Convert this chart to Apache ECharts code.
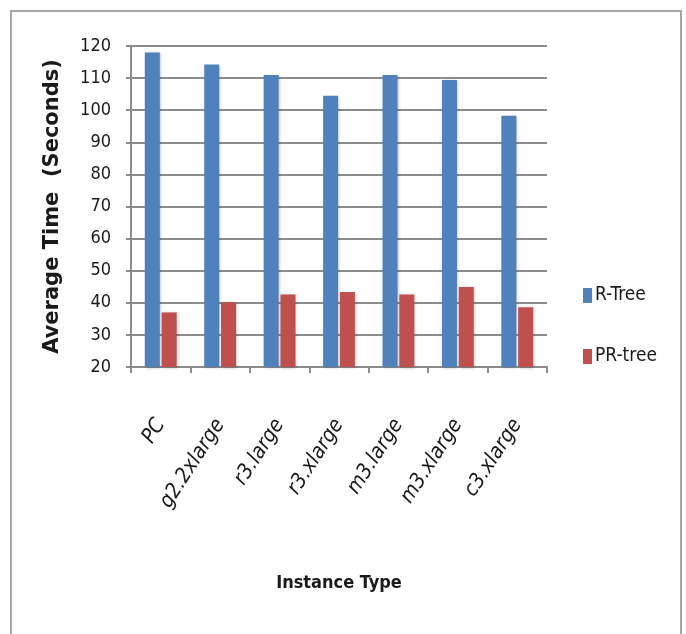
<!DOCTYPE html>
<html>
<head>
<meta charset="utf-8">
<style>
  html, body { margin: 0; padding: 0; background: #ffffff; }
  #chart { width: 686px; height: 634px; }
</style>
<script src="https://cdn.jsdelivr.net/npm/echarts@6/dist/echarts.min.js"></script>
</head>
<body>
<div id="chart"></div>
<script>
// Instance types benchmarked
const categories = ['PC', 'g2.2xlarge', 'r3.large', 'r3.xlarge', 'm3.large', 'm3.xlarge', 'c3.xlarge'];
// Average query time in seconds
const rTree = [118, 114.2, 111, 104.5, 111, 109.4, 98.3];
const prTree = [37, 40.2, 42.6, 43.4, 42.6, 44.9, 38.6];
const seriesNames = ['R-Tree', 'PR-tree'];

const narrow = '"Liberation Sans Narrow", "DejaVu Sans Condensed", sans-serif';
const gridGray = '#8c8c8c';

const chart = echarts.init(document.getElementById('chart'), null, { renderer: 'canvas' });

chart.setOption({
  animation: false,
  backgroundColor: '#ffffff',
  graphic: [{
    type: 'rect',
    shape: { x: 11, y: 11, width: 670, height: 640 },
    style: { fill: 'none', stroke: '#a6a6a6', lineWidth: 2 },
    z: -1
  }],
  grid: { left: 131, right: 139, top: 46, bottom: 267 },
  legend: {
    orient: 'vertical',
    left: 578,
    top: 281,
    itemGap: 42,
    itemWidth: 9,
    itemHeight: 15,
    icon: 'rect',
    textStyle: { fontFamily: narrow, fontSize: 19, color: '#1a1a1a', padding: [0, 0, 0, -2] },
    data: seriesNames
  },
  xAxis: {
    type: 'category',
    data: categories,
    name: 'Instance Type',
    nameLocation: 'middle',
    nameGap: 207,
    nameTextStyle: { fontFamily: narrow, fontSize: 18, fontWeight: 'bold', color: '#1a1a1a' },
    axisLine: { lineStyle: { color: gridGray, width: 2 } },
    axisTick: { show: true, alignWithLabel: false, length: 6, lineStyle: { color: gridGray, width: 2 } },
    axisLabel: {
      rotate: 57,
      margin: 54,
      fontFamily: narrow,
      fontSize: 21,
      fontStyle: 'italic',
      color: '#1a1a1a',
      interval: 0
    }
  },
  yAxis: {
    type: 'value',
    min: 20,
    max: 120,
    interval: 10,
    name: 'Average Time  (Seconds)',
    nameLocation: 'middle',
    nameGap: 68,
    nameTextStyle: { fontFamily: '"DejaVu Sans", sans-serif', fontSize: 21, fontWeight: 'bold', color: '#1a1a1a' },
    axisLine: { show: true, lineStyle: { color: gridGray, width: 2 } },
    axisTick: { show: true, length: 5, lineStyle: { color: gridGray, width: 2 } },
    axisLabel: { margin: 20, fontFamily: narrow, fontSize: 18, color: '#1a1a1a' },
    splitLine: { lineStyle: { color: gridGray, width: 2 } }
  },
  series: [
    {
      name: seriesNames[0],
      type: 'bar',
      data: rTree,
      barWidth: 15,
      barGap: '12%',
      itemStyle: { color: '#4f81bd', shadowColor: 'rgba(0,0,0,0.25)', shadowBlur: 3, shadowOffsetX: 1, shadowOffsetY: 1 }
    },
    {
      name: seriesNames[1],
      type: 'bar',
      data: prTree,
      barWidth: 15,
      itemStyle: { color: '#c0504d', shadowColor: 'rgba(0,0,0,0.25)', shadowBlur: 3, shadowOffsetX: 1, shadowOffsetY: 1 }
    }
  ]
});
</script>
</body>
</html>
